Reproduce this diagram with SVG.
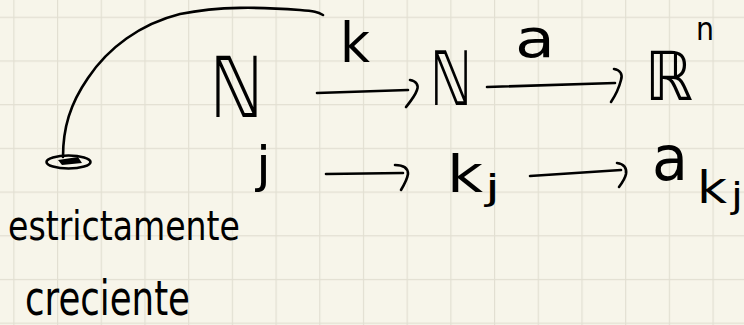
<svg xmlns="http://www.w3.org/2000/svg" width="744" height="325" viewBox="0 0 744 325">
<style>
.ink{fill:none;stroke:#000;stroke-width:2.6;stroke-linecap:round;stroke-linejoin:round}
.t{font-family:"DejaVu Sans","Liberation Sans",sans-serif;fill:#000}
.h{font-family:"DejaVu Sans","Liberation Sans",sans-serif;fill:#000;font-weight:normal}
</style>
<defs>
<pattern id="grid" patternUnits="userSpaceOnUse" x="13.3" y="16.7" width="43.7" height="43.7">
<path d="M0 0V43.7M0 0H43.7" fill="none" stroke="#e2dfd2" stroke-width="2.4"/>
</pattern>
</defs>
<rect width="744" height="325" fill="#f7f5ea"/>
<rect width="744" height="325" fill="url(#grid)"/>

<g id="connectors">
<path class="ink" d="M323 15C318 12 314 11 300 10C260 7 220 6 180 14C140 24 108 48 88 78C70 104 63 128 63 157"/>
<ellipse class="ink" cx="68.5" cy="162" rx="22" ry="6.5"/>
<path d="M58 160L78 157L82 163L62 165Z" fill="#000"/>
<path class="ink" d="M317 93L408 90"/>
<path class="ink" d="M410 80C416 81 419 85 417 90C415 96 410 102 406 107"/>
<path class="ink" d="M487 87L615 83"/>
<path class="ink" d="M614 69C620 70 623 74 621 80C619 88 615 96 611 102"/>
<path class="ink" d="M326 174L403 173"/>
<path class="ink" d="M395 165C403 165 408 168 408 174C407 180 404 185 401 190"/>
<path class="ink" d="M530 176L621 170"/>
<path class="ink" d="M617 163C624 164 627 168 626 174C625 179 622 183 619 187"/>
</g>

<g id="node-N1"><text class="t" x="210" y="117" font-size="84" textLength="53" lengthAdjust="spacingAndGlyphs">ℕ</text></g>
<g id="label-k"><text class="t" x="340" y="62" font-size="55" textLength="30" lengthAdjust="spacingAndGlyphs">k</text></g>
<g id="node-N2"><text class="t" x="430" y="105" font-size="75" textLength="42" lengthAdjust="spacingAndGlyphs">ℕ</text></g>
<g id="label-a"><text class="t" x="515" y="57" font-size="53" textLength="40" lengthAdjust="spacingAndGlyphs">a</text></g>
<g id="node-Rn"><text class="t" x="645" y="100" font-size="68" textLength="48" lengthAdjust="spacingAndGlyphs">ℝ</text><text class="t" x="696" y="40" font-size="32" textLength="18" lengthAdjust="spacingAndGlyphs">n</text></g>

<g id="node-j"><text class="t" x="256" y="182" font-size="50" textLength="15" lengthAdjust="spacingAndGlyphs">j</text></g>
<g id="node-kj"><text class="t" x="447" y="192" font-size="51" textLength="36" lengthAdjust="spacingAndGlyphs">k</text><text class="t" x="485" y="200" font-size="36" textLength="15" lengthAdjust="spacingAndGlyphs">j</text></g>
<g id="node-akj"><text class="t" x="652" y="180" font-size="62" textLength="36" lengthAdjust="spacingAndGlyphs">a</text><text class="t" x="697" y="203" font-size="44" textLength="30" lengthAdjust="spacingAndGlyphs">k</text><text class="t" x="731" y="208" font-size="36" textLength="12" lengthAdjust="spacingAndGlyphs">j</text></g>

<g id="note">
<text class="h" x="8" y="240" font-size="40" textLength="232" lengthAdjust="spacingAndGlyphs">estrictamente</text>
<text class="h" x="25" y="315" font-size="48" textLength="165" lengthAdjust="spacingAndGlyphs">creciente</text>
</g>
</svg>
